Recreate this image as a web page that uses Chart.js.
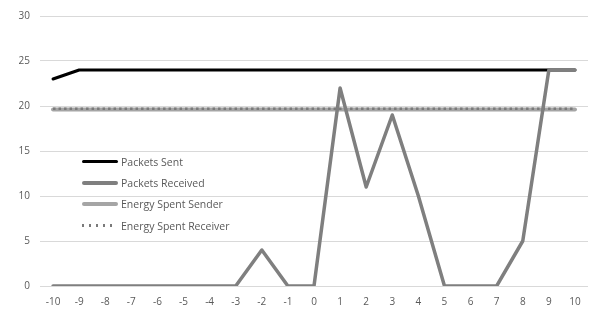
<!DOCTYPE html>
<html>
<head>
<meta charset="utf-8">
<script src="https://cdn.jsdelivr.net/npm/chart.js@4/dist/chart.umd.min.js"></script>
<style>
html,body{margin:0;padding:0;background:#fff;}
#wrap{position:relative;width:595px;height:311px;}
#legend{position:absolute;left:82px;top:151px;font-family:"Open Sans","Liberation Sans",sans-serif;font-size:10.5px;color:#595959;}
.item{display:flex;align-items:center;height:21.3px;}
.sw{width:36px;margin-right:3px;}
</style>
</head>
<body>
<div id="wrap">
<canvas id="c" width="595" height="311"></canvas>
<div id="legend"></div>
</div>
<script>
const categories = ["-10","-9","-8","-7","-6","-5","-4","-3","-2","-1","0","1","2","3","4","5","6","7","8","9","10"];
const packetsSent =       [23,24,24,24,24,24,24,24,24,24,24,24,24,24,24,24,24,24,24,24,24];
const packetsReceived =   [0,0,0,0,0,0,0,0,4,0,0,22,11,19,10,0,0,0,5,24,24];
const energySender =      [19.6,19.6,19.6,19.6,19.6,19.6,19.6,19.6,19.6,19.6,19.6,19.6,19.6,19.6,19.6,19.6,19.6,19.6,19.6,19.6,19.6];
const energyReceiver =    [19.7,19.7,19.7,19.7,19.7,19.7,19.7,19.7,19.7,19.7,19.7,19.7,19.7,19.7,19.7,19.7,19.7,19.7,19.7,19.7,19.7];
const seriesNames = ["Packets Sent","Packets Received","Energy Spent Sender","Energy Spent Receiver"];

const styles = [
  {color:"#000000", width:3, dash:[]},
  {color:"#7f7f7f", width:3.5, dash:[]},
  {color:"#a5a5a5", width:4, dash:[]},
  {color:"#7a7a7a", width:2.5, dash:[2.5,3]}
];
const dataArr = [packetsSent, packetsReceived, energySender, energyReceiver];
const orders = [3,0,2,1];

const datasets = dataArr.map((d,i)=>({
  label: seriesNames[i],
  data: d,
  borderColor: styles[i].color,
  backgroundColor: styles[i].color,
  borderWidth: styles[i].width,
  borderDash: styles[i].dash,
  pointRadius: 0,
  tension: 0,
  fill: false,
  order: orders[i],
  borderJoinStyle: 'round',
  borderCapStyle: i===3 ? 'butt' : 'round'
}));

const tickFont = {family:"'Open Sans','Liberation Sans',sans-serif", size:10};

new Chart(document.getElementById('c'), {
  type: 'line',
  data: {labels: categories, datasets},
  options: {
    responsive: false,
    animation: false,
    devicePixelRatio: 1,
    layout: {padding: {left:0, right:7, top:12, bottom:0}},
    plugins: {legend: {display:false}, tooltip: {enabled:false}},
    scales: {
      x: {
        offset: true,
        grid: {display:false, drawTicks:false},
        border: {display:false},
        ticks: {color:"#595959", font: tickFont, padding: 10, maxRotation:0, autoSkip:false},
        afterFit: s => { s.height = 25; }
      },
      y: {
        min: 0, max: 30,
        grid: {color:"#d9d9d9", lineWidth:1, drawTicks:false},
        border: {display:false},
        ticks: {stepSize:5, color:"#595959", font: tickFont, padding: 10},
        afterFit: s => { s.width = 40; }
      }
    }
  }
});

const lg = document.getElementById('legend');
seriesNames.forEach((n,i)=>{
  const it = document.createElement('div'); it.className='item';
  const sw = document.createElement('div'); sw.className='sw';
  if (i===3) {
    sw.style.height = "2.5px";
    sw.style.width = "33px";
    sw.style.marginRight = "6px";
    sw.style.background = "repeating-linear-gradient(to right," + styles[i].color + " 0 2.5px, transparent 2.5px 7px)";
  } else {
    sw.style.height = styles[i].width + "px"; sw.style.background = styles[i].color; sw.style.borderRadius="2px";
  }
  const t = document.createElement('span'); t.textContent = n;
  it.appendChild(sw); it.appendChild(t); lg.appendChild(it);
});
</script>
</body>
</html>
